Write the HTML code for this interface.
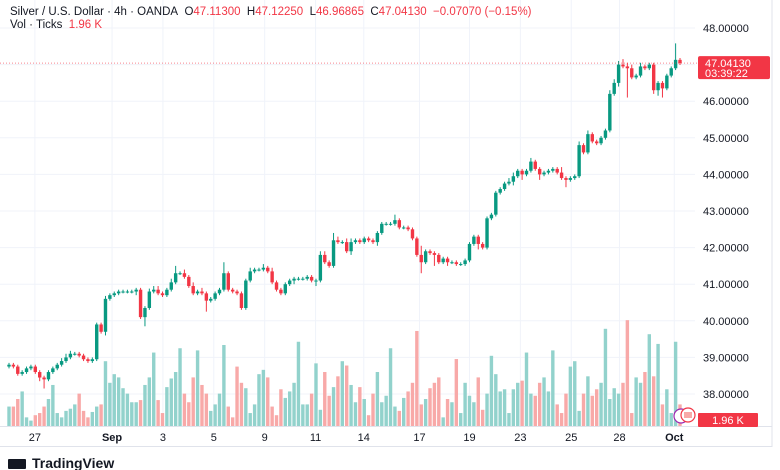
<!DOCTYPE html>
<html><head><meta charset="utf-8"><style>
body{margin:0;background:#fff;font-family:"Liberation Sans",sans-serif;}
#wrap{position:relative;width:780px;height:470px;overflow:hidden;background:#fff}
.t{position:absolute;font-size:11px;color:#131722;white-space:nowrap}
</style></head><body>
<div id="wrap">
<svg id="svg" width="780" height="470" style="position:absolute;left:0;top:0"></svg>
<div class="t" style="left:10px;top:6px;font-size:11.5px">Silver / U.S. Dollar · 4h · OANDA&nbsp; O<span style="color:#f23645">47.11300</span>&nbsp; H<span style="color:#f23645">47.12250</span>&nbsp; L<span style="color:#f23645">46.96865</span>&nbsp; C<span style="color:#f23645">47.04130</span>&nbsp; <span style="color:#f23645">−0.07070 (−0.15%)</span></div>
<div class="t" style="left:10px;top:19px;font-size:11.5px">Vol · Ticks&nbsp; <span style="color:#f23645">1.96 K</span></div>
<div class="t" style="left:8px;top:455px;font-size:14px;font-weight:bold;color:#131722"><span style="display:inline-block;width:18px;height:10px;background:#131722;margin-right:6px;vertical-align:-1px;border-radius:1px"></span>TradingView</div>
</div>
<script>
const closes=[38.8,38.75,38.55,38.6,38.7,38.75,38.6,38.45,38.4,38.6,38.7,38.8,38.9,39.0,39.1,39.1,39.05,38.95,38.9,38.95,39.9,
39.7,40.6,40.7,40.75,40.8,40.8,40.8,40.8,40.85,40.1,40.35,40.8,40.85,40.75,40.7,40.85,41.05,
41.3,41.3,41.2,40.95,40.75,40.8,40.75,40.55,40.6,40.75,40.85,41.3,40.85,40.8,40.75,40.35,41.1,41.35,
41.4,41.4,41.45,41.35,41.05,40.85,40.75,41.0,41.1,41.15,41.15,41.15,41.2,41.1,41.1,41.8,41.6,41.5,42.2,42.15,42.15,41.9,42.15,42.2,42.15,42.25,42.2,42.15,
42.4,42.65,42.65,42.65,42.75,42.55,42.55,42.5,42.25,41.8,41.6,41.9,41.85,41.8,41.6,41.7,41.6,41.6,41.55,41.55,41.65,42.1,
42.3,42.1,42.0,42.8,42.9,43.5,43.6,43.75,43.8,43.95,44.1,44.0,44.1,44.35,44.15,44.0,44.05,44.1,44.15,44.05,43.9,43.85,43.9,43.95,
44.8,44.6,45.1,44.9,44.85,45.0,45.2,46.2,46.5,47.0,46.95,46.9,46.65,46.7,46.95,46.9,47.0,46.3,46.5,46.35,46.7,46.9,47.13,47.04];
const wickUp=[.05,.05,.05,.05,.05,.05,.05,.05,.05,.05,.05,.05,.08,.1,.08,.05,.05,.05,.05,.05,.05,
.05,.08,.05,.05,.05,.05,.05,.05,.05,.05,.05,.08,.1,.1,.05,.05,.1,
.2,.05,.1,.05,.1,.05,.1,.05,.05,.05,.05,.3,.05,.05,.05,.05,.05,.1,
.05,.05,.1,.05,.1,.05,.05,.05,.05,.05,.05,.05,.05,.05,.05,.1,.1,.05,.2,.1,.05,.1,.1,.05,.05,.05,.05,.05,
.05,.05,.05,.05,.15,.05,.05,.05,.05,.05,.25,.05,.05,.05,.05,.05,.05,.05,.05,.05,.05,.05,
.05,.05,.05,.05,.05,.05,.05,.05,.1,.1,.05,.05,.05,.1,.05,.05,.05,.05,.05,.05,.15,.05,.05,.05,
.1,.05,.1,.05,.05,.05,.05,.1,.1,.1,.15,.1,.1,.05,.1,.05,.05,.05,.05,.05,.05,.05,.45,.05];
const wickDn=[.05,.05,.05,.05,.05,.05,.05,.1,.25,.05,.05,.05,.05,.05,.05,.05,.05,.05,.05,.05,.05,
.05,.1,.05,.05,.05,.05,.05,.05,.1,.05,.25,.05,.05,.05,.05,.05,.05,
.05,.05,.05,.05,.05,.05,.05,.3,.05,.05,.05,.05,.05,.05,.05,.05,.05,.05,
.05,.05,.05,.05,.05,.05,.05,.05,.05,.1,.05,.05,.05,.05,.15,.05,.05,.05,.05,.05,.05,.05,.1,.05,.05,.05,.05,.05,
.1,.05,.05,.05,.05,.05,.05,.05,.05,.05,.3,.05,.05,.3,.05,.05,.1,.05,.05,.05,.05,.05,
.05,.15,.05,.05,.05,.05,.05,.05,.05,.1,.05,.15,.05,.05,.05,.15,.05,.05,.05,.05,.05,.2,.05,.05,
.05,.05,.05,.05,.05,.05,.05,.05,.05,.1,.05,.8,.05,.05,.05,.05,.05,.1,.15,.25,.05,.05,.05,.05];
const volumes=[18,18,25,32,8,5,10,12,18,25,38,12,8,14,16,20,30,14,8,13,18,
20,60,40,48,45,35,30,22,22,24,38,45,68,24,12,36,44,
50,72,30,22,45,70,38,30,14,20,30,75,18,8,55,40,35,12,
20,48,52,45,18,10,34,26,32,40,78,20,20,30,58,15,50,28,36,46,60,56,38,22,36,25,10,30,
50,22,28,72,18,14,26,32,40,88,20,25,35,40,45,8,25,22,62,12,40,28,
22,45,15,30,65,48,32,34,12,34,40,42,68,30,28,40,45,32,70,20,12,30,55,60,
14,30,46,28,34,40,90,25,35,30,40,98,12,45,40,50,85,46,76,20,34,12,78,20];
const priceTicks=[48,47,46,45,44,43,42,41,40,39,38];
const dateLabels=["27","Sep","3","5","9","11","14","17","19","23","25","28","Oct"];
const dateIdx=[6.4,24,35.6,47.2,58.8,70.4,81.4,94.1,105.5,117.1,128.7,139.7,152.2];

const svg=document.getElementById('svg');const NS='http://www.w3.org/2000/svg';
function mk(tag,attrs,parent){const e=document.createElementNS(NS,tag);for(const k in attrs)e.setAttribute(k,attrs[k]);(parent||svg).appendChild(e);return e;}
const yP=p=>28+(48-p)*36.6;
const xI=i=>9+i*(671/(closes.length-1));
const yV=v=>426-v*1.08;
const GREEN='#089981',RED='#f23645',VG='#92d2cc',VR='#f8a9a8';
let g;
priceTicks.forEach(p=>{g=mk('line',{x1:0,x2:695,y1:yP(p),y2:yP(p),stroke:'#f0f3fa'});


const t=mk('text',{x:703,y:yP(p)+4,'font-size':11,fill:'#131722','font-family':'Liberation Sans, sans-serif'});t.textContent=p.toFixed(5);

});
dateLabels.forEach((d,k)=>{const x=xI(dateIdx[k]-0.5);
g=mk('line',{x1:x,x2:x,y1:0,y2:426,stroke:'#f0f3fa'});


const t=mk('text',{x:x,y:441,'font-size':11,fill:'#131722','text-anchor':'middle','font-weight':(d=='Sep'||d=='Oct')?'bold':'normal','font-family':'Liberation Sans, sans-serif'});t.textContent=d;

});
g=mk('line',{x1:0,x2:772,y1:426.5,y2:426.5,stroke:'#e0e3eb'});


g=mk('path',{d:'M772 0V446.5H0',stroke:'#e0e3eb',fill:'none'});


const bw=3.4;
closes.forEach((c,i)=>{const o=i?closes[i-1]:c-0.05;const up=c>=o;
const b=mk('rect',{x:xI(i)-bw/2,y:yV(volumes[i]),width:bw,height:volumes[i]*1.08,fill:up?VG:VR});

});
closes.forEach((c,i)=>{const o=i?closes[i-1]:c-0.05;const up=c>=o;const col=up?GREEN:RED;
const hi=Math.max(o,c)+wickUp[i],lo=Math.min(o,c)-wickDn[i];
const w=mk('line',{x1:xI(i),x2:xI(i),y1:yP(hi),y2:yP(lo),stroke:col,'stroke-width':1});


const top=yP(Math.max(o,c)),h=Math.max(1,Math.abs(yP(o)-yP(c)));
const r=mk('rect',{x:xI(i)-bw/2,y:top,width:bw,height:h,fill:col});

});
const last=closes[closes.length-1];
g=mk('line',{x1:0,x2:697,y1:yP(last),y2:yP(last),stroke:RED,'stroke-dasharray':'1 2','stroke-width':1,opacity:0.6});


g=mk('rect',{x:698,y:yP(last)-7,width:72,height:23,fill:RED,rx:2});


let t=mk('text',{x:705,y:yP(last)+4,'font-size':11,fill:'#fff','font-family':'Liberation Sans, sans-serif'});t.textContent='47.04130';


t=mk('text',{x:705,y:yP(last)+14,'font-size':11,fill:'#fff','font-family':'Liberation Sans, sans-serif'});t.textContent='03:39:22';


g=mk('rect',{x:698,y:413,width:60,height:14,fill:RED,rx:1});


t=mk('text',{x:728,y:424,'font-size':11,fill:'#fff','text-anchor':'middle','font-family':'Liberation Sans, sans-serif'});t.textContent='1.96 K';


g=mk('circle',{cx:681,cy:416,r:7,fill:'#fff',stroke:'#9c27b0','stroke-width':1.2});


g=mk('circle',{cx:688,cy:415,r:7,fill:'#fff',stroke:'#f23645','stroke-width':1.2});


g=mk('rect',{x:684,y:412,width:8,height:6,fill:'#f8a9a8'});


</script>
</body></html>
